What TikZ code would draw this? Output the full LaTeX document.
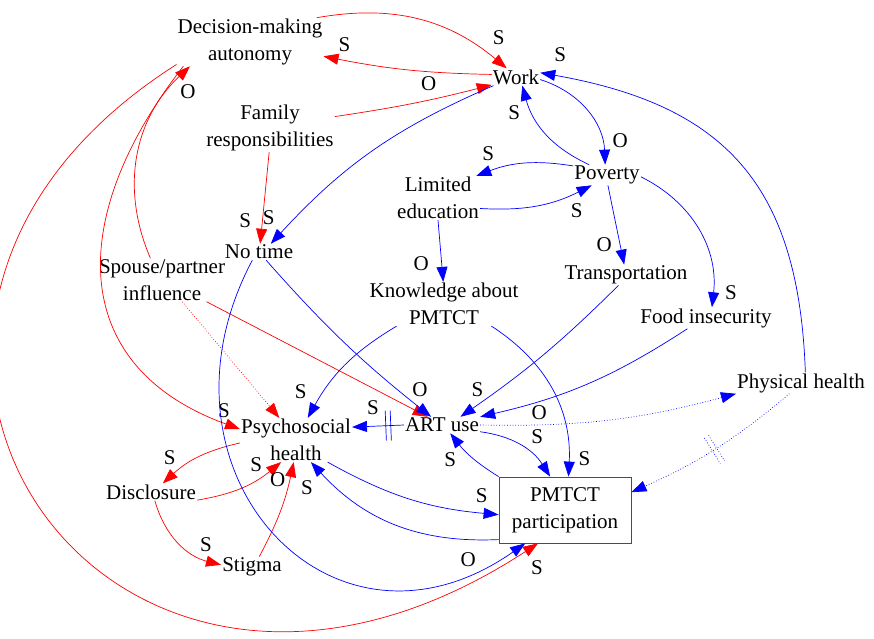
\documentclass[tikz,border=0pt]{standalone}
\usepackage{fontspec}
\setmainfont{Liberation Serif}
\usetikzlibrary{arrows.meta,decorations.markings}

\begin{document}
\begin{tikzpicture}[>={Triangle[width=11pt,length=15pt]}, font=\fontsize{21}{27}\selectfont, var/.style={align=center, inner sep=1pt}, box/.style={draw=black!70, line width=0.8pt, minimum width=132pt, minimum height=66pt, align=center, inner sep=1pt}, rl/.style={red, line width=0.7pt}, bl/.style={blue, line width=0.7pt}, pl/.style 2 args={at end, xshift=#1, yshift=#2, text=black, inner sep=0pt}, lag/.style={postaction={decorate, decoration={markings, mark=at position #1 with {\draw[-, blue, line width=0.7pt] (-2.5pt,-15pt) -- (-2.5pt,15pt) (2.5pt,-15pt) -- (2.5pt,15pt);}}}}, dotlag/.style={postaction={decorate, decoration={markings, mark=at position #1 with {\draw[-, blue, line width=0.7pt, dotted] (-2.5pt,-15pt) -- (-2.5pt,15pt) (2.5pt,-15pt) -- (2.5pt,15pt);}}}}]
\useasboundingbox (0pt, 0pt) rectangle (874pt, -638pt);
\draw (250.0pt, -42.0pt)node[var](dma){Decision-making\\autonomy};
\draw (516.0pt, -77.0pt)node[var](work){Work};
\draw (270.0pt, -128.0pt)node[var](fam){Family\\responsibilities};
\draw (438.0pt, -198.0pt)node[var](ledu){Limited\\education};
\draw (607.0pt, -175.0pt)node[var](pov){Poverty};
\draw (259.0pt, -252.0pt)node[var](notime){No time};
\draw (162.0pt, -280.0pt)node[var](spouse){Spouse/partner\\influence};
\draw (444.0pt, -304.0pt)node[var](know){Knowledge about\\PMTCT};
\draw (626.0pt, -275.0pt)node[var](transp){Transportation};
\draw (706.0pt, -318.0pt)node[var](food){Food insecurity};
\draw (801.0pt, -383.0pt)node[var](phys){Physical health};
\draw (296.0pt, -440.0pt)node[var](psy){Psychosocial\\health};
\draw (442.0pt, -425.0pt)node[var](art){ART use};
\draw (151.0pt, -492.0pt)node[var](discl){Disclosure};
\draw (252.0pt, -567.0pt)node[var](stigma){Stigma};
\draw (565.0pt, -510.0pt)node[box](part){PMTCT\\participation};
\path[->, rl] (dma.20) edge[bend left = 25] node[pl={-8pt}{31pt}]{S}(work.137);
\path[->, rl] (work.174) edge[bend left = 5] node[pl={21pt}{12pt}]{S}(dma.349);
\path[->, rl] (fam.10) edge[bend right = 3] node[pl={-63pt}{1pt}]{O}(work.198);
\path[->, rl] (fam.268) edge node[pl={-15pt}{23pt}]{S}(notime.82);
\path[->, rl] (spouse.118) edge[bend left = 35] node[pl={-2pt}{-25pt}]{O}(dma.202);
\path[->, rl] (dma.200) edge[out=232, in=160, looseness=1.3] node[pl={-16pt}{18pt}]{S}(psy.169);
\draw[->, rl] (dma.197) .. controls (-229.0pt, -322.0pt) and (101.0pt, -828.0pt) .. (part.231) node[pl={-1pt}{-24pt}]{S};
\path[->, rl, dotted] (spouse.313) edge (psy.127);
\path[->, rl] (spouse.334) edge (art.150);
\path[->, rl] (psy.183) edge[bend right = 15] node[pl={7pt}{26pt}]{S}(discl.36);
\path[->, rl] (discl.350) edge[bend right = 15] node[pl={-25pt}{-3pt}]{S}(psy.236);
\path[->, rl] (discl.294) edge[bend right = 30] node[pl={-15pt}{20pt}]{S}(stigma.176);
\path[->, rl] (stigma.55) edge[bend right = 8] node[pl={-16pt}{-18pt}]{O}(psy.264);
\path[->, bl] (work.201) edge[bend right = 12] node[pl={-2pt}{26pt}]{S}(notime.35);
\path[->, bl] (work.354) edge[bend left = 35] node[pl={15pt}{24pt}]{O}(pov.100);
\path[->, bl] (pov.150) edge[bend left = 25] node[pl={-8pt}{-27pt}]{S}(work.306);
\path[->, bl] (pov.165) edge[bend right = 15] node[pl={12pt}{22pt}]{S}(ledu.30);
\path[->, bl] (ledu.346) edge[bend right = 15] node[pl={-15pt}{-25pt}]{S}(pov.214);
\path[->, bl] (ledu.270) edge node[pl={-22pt}{18pt}]{O}(know.92);
\path[->, bl] (pov.275) edge node[pl={-20pt}{20pt}]{O}(transp.100);
\path[->, bl] (pov.357) edge[bend left = 35] node[pl={19pt}{15pt}]{S}(food.61);
\path[->, bl] (phys.68) edge[out=92, in=350, looseness=1.2] node[pl={20pt}{18pt}]{S}(work.10);
\path[->, bl] (notime.231) edge[out=242, in=215, looseness=1.55] node[pl={-57pt}{-16pt}]{O}(part.220);
\path[->, bl] (notime.311) edge[bend right = 5] node[pl={-11pt}{27pt}]{O}(art.143);
\path[->, bl] (know.205) edge[bend right = 15] node[pl={-7pt}{26pt}]{S}(psy.62);
\path[->, bl] (know.335) edge[bend left = 30] node[pl={16pt}{18pt}]{S}(part.84);
\path[->, bl] (transp.234) edge[bend left = 5] node[pl={17pt}{27pt}]{S}(art.24);
\path[->, bl] (food.210) edge[bend left = 10] (art.north east);
\path[->, bl, dotted] (art.0) edge[bend right = 8] node[pl={59pt}{12pt}, pos=0]{O}(phys.south west);
\path[->, bl] (art.350) edge[bend left = 25] node[pl={-13pt}{40pt}]{S}(part.114);
\path[->, bl] (part.north west) edge[bend left = 10] node[pl={0pt}{-26pt}]{S}(art.315);
\path[->, bl] (art.west) edge[lag=0.3] node[pl={21pt}{19pt}]{S}(psy.13);
\path[->, bl] (psy.325) edge[bend right = 12] node[pl={-17pt}{19pt}]{S}(part.184);
\path[->, bl] (part.204) edge[bend left = 25] node[pl={-4pt}{-26pt}]{S}(psy.304);
\path[->, bl, dotted] (phys.223) edge[bend left = 8, dotlag=0.5] (part.15);
\end{tikzpicture}
\end{document}
